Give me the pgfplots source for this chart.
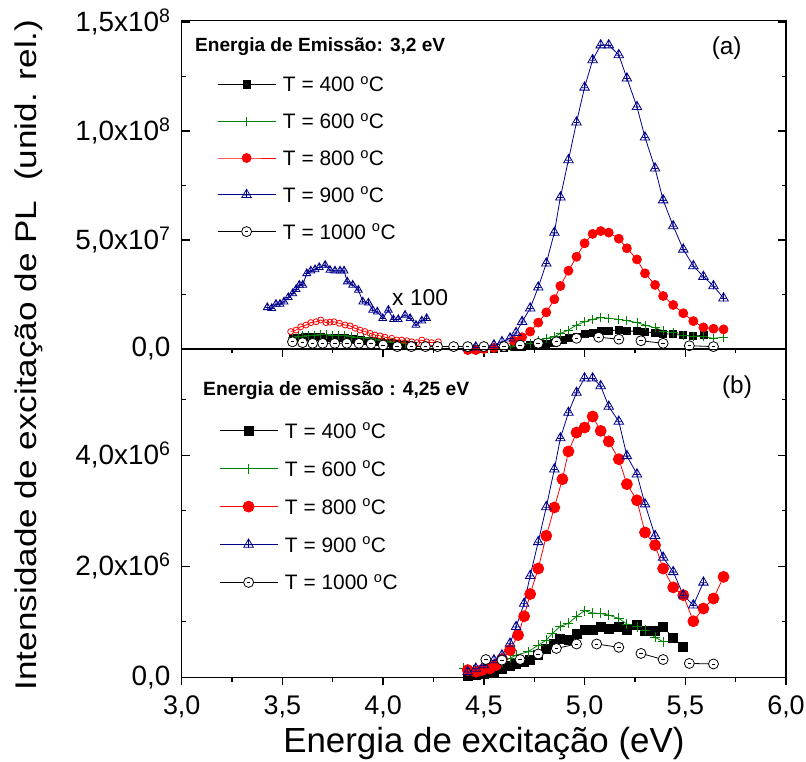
\documentclass[border=0pt]{standalone}
\usepackage{fontspec}
\setmainfont{Liberation Sans}
\usepackage{graphicx}
\usepackage{pgfplots}
\pgfplotsset{compat=1.18}
\definecolor{cnavy}{RGB}{0,0,139}
\definecolor{cgreen}{RGB}{0,128,0}
\definecolor{cred}{RGB}{255,0,0}
\pgfdeclareplotmark{tricross}{%
  \pgfpathmoveto{\pgfqpointpolar{90}{\pgfplotmarksize}}%
  \pgfpathlineto{\pgfqpointpolar{210}{\pgfplotmarksize}}%
  \pgfpathlineto{\pgfqpointpolar{330}{\pgfplotmarksize}}%
  \pgfpathclose
  \pgfpathmoveto{\pgfqpointpolar{90}{\pgfplotmarksize}}%
  \pgfpathlineto{\pgfqpoint{0pt}{-0.6\pgfplotmarksize}}%
  \pgfpathmoveto{\pgfqpoint{-0.45\pgfplotmarksize}{-0.05\pgfplotmarksize}}%
  \pgfpathlineto{\pgfqpoint{0.45\pgfplotmarksize}{-0.05\pgfplotmarksize}}%
  \pgfusepathqstroke}
\pgfdeclareplotmark{odash}{%
  \pgfpathcircle{\pgfpointorigin}{\pgfplotmarksize}%
  \pgfusepathqfillstroke
  \pgfpathmoveto{\pgfqpoint{-0.35\pgfplotmarksize}{0pt}}%
  \pgfpathlineto{\pgfqpoint{0.35\pgfplotmarksize}{0pt}}%
  \pgfusepathqstroke}
\newcommand{\tfont}{\fontsize{27}{30}\selectfont}
\newcommand{\yfont}{\fontsize{28}{31}\selectfont}
\newcommand{\lfont}{\fontsize{21}{24}\selectfont}
\newcommand{\dg}{\textsuperscript{o}}
\pgfplotsset{
  panel/.style={
    scale only axis, width=604.3bp, xmin=3, xmax=6,
    xtick={3,3.5,4,4.5,5,5.5,6}, minor xtick={3.25,3.75,4.25,4.75,5.25,5.75},
    xtick pos=lower, ytick pos=both,
    xtick align=outside, ytick align=inside,
    major tick length=8bp, minor tick length=4.5bp,
    axis line style={line width=1.5bp},
    tick style={black, line width=1.3bp},
    clip=false, unbounded coords=jump,
    xticklabel style={font=\tfont, anchor=north, inner sep=0pt, yshift=-10bp},
    yticklabel style={font=\yfont, anchor=east, inner sep=0pt, xshift=-11bp},
    legend cell align=left,
    legend image code/.code={\draw[mark repeat=2,mark phase=2] plot coordinates {(0bp,0bp) (29bp,0bp) (58bp,0bp)};},
    every axis plot/.append style={line width=0.8bp},
  },
  s400/.style={black, mark=square*, mark size=3.5bp, mark options={solid, fill=black}},
  s600/.style={cgreen, mark=+, mark size=4.5bp, mark options={solid}},
  s800/.style={cred, mark=*, mark size=4.5bp, mark options={solid, fill=cred}},
  s900/.style={cnavy, mark=tricross, mark size=5.5bp, mark options={solid}},
  s1000/.style={black, mark=odash, mark size=5bp, mark options={solid, fill=white}},
}
\begin{document}
\begin{tikzpicture}
\useasboundingbox (0,0) rectangle (806bp,762bp);
% ---------------- top panel (a)
\begin{axis}[panel, at={(181.7bp,413bp)}, anchor=south west, height=328.3bp,
  ymin=0, ymax=15.06, ytick={0,5,10,15}, minor ytick={2.5,7.5,12.5},
  yticklabels={{0,0},{5,0x10\textsuperscript{7}},{1,0x10\textsuperscript{8}},{1,5x10\textsuperscript{8}}},
  xticklabels={},
  legend style={at={(0.0584,0.8294)}, anchor=north west, draw=none, fill=none, inner sep=0pt,
    row sep=21.8bp, column sep=4bp, font=\lfont,
    nodes={inner ysep=0pt, inner xsep=3bp, text height=15bp, text depth=0bp}}]
% low-energy region
\addplot[s400, forget plot, mark size=3.5bp] coordinates {(3.55,0.50)(3.57,0.52)(3.59,0.53)(3.61,0.54)(3.63,0.54)(3.65,0.54)(3.67,0.54)(3.69,0.54)(3.71,0.53)(3.73,0.53)(3.75,0.52)(3.77,0.51)(3.79,0.50)(3.81,0.49)(3.83,0.47)(3.85,0.45)(3.87,0.43)(3.89,0.41)(3.91,0.39)(3.93,0.37)(3.95,0.35)(3.97,0.33)(3.99,0.31)(4.01,0.29)(4.03,0.27)(4.05,0.25)(4.07,0.23)(4.09,0.21)(4.11,0.19)(4.13,0.17)(4.15,0.15)};
\addplot[s600, forget plot] coordinates {(3.55,0.55)(3.58,0.58)(3.60,0.60)(3.63,0.62)(3.66,0.63)(3.69,0.66)(3.72,0.65)(3.75,0.64)(3.78,0.63)(3.81,0.61)(3.84,0.58)(3.87,0.55)(3.90,0.52)(3.93,0.48)(3.96,0.44)(3.99,0.40)(4.02,0.36)(4.05,0.32)(4.08,0.30)(4.11,0.27)};
\addplot[cred, mark=o, mark size=3bp, mark options={solid}, forget plot] coordinates {(3.541,0.80)(3.568,0.87)(3.591,1.02)(3.617,1.10)(3.641,1.21)(3.667,1.25)(3.690,1.33)(3.716,1.21)(3.736,1.23)(3.756,1.25)(3.783,1.18)(3.811,1.10)(3.836,1.06)(3.861,0.95)(3.885,0.87)(3.910,0.80)(3.935,0.72)(3.960,0.64)(3.985,0.60)(4.009,0.54)(4.043,0.49)(4.068,0.41)(4.092,0.41)(4.117,0.38)(4.142,0.33)(4.167,0.29)(4.192,0.41)(4.216,0.33)(4.241,0.29)(4.274,0.33)};
\addplot[s900, mark size=4.5bp, forget plot] coordinates {(3.425,1.91)(3.447,1.87)(3.468,2.06)(3.488,2.06)(3.508,2.17)(3.529,2.37)(3.551,2.55)(3.568,2.74)(3.584,2.94)(3.601,2.94)(3.621,3.47)(3.641,3.59)(3.662,3.65)(3.683,3.75)(3.712,3.85)(3.736,3.62)(3.761,3.59)(3.786,3.59)(3.806,3.59)(3.822,3.09)(3.849,2.94)(3.877,2.71)(3.899,2.17)(3.927,2.12)(3.948,1.79)(3.971,1.71)(3.998,1.41)(4.026,1.79)(4.051,1.36)(4.075,1.36)(4.109,1.56)(4.134,1.41)(4.163,1.10)(4.192,1.30)(4.216,1.41)};
% main series
\addplot[s400] coordinates {(4.42,0.0)(4.46,0.0)(4.50,0.0)(4.55,0.02)(4.60,0.05)(4.65,0.08)(4.69,0.11)(4.73,0.18)(4.77,0.22)(4.81,0.25)(4.85,0.28)(4.89,0.40)(4.92,0.49)(4.96,0.56)(5.00,0.67)(5.04,0.76)(5.08,0.82)(5.12,0.84)(5.17,0.87)(5.21,0.82)(5.26,0.82)(5.30,0.79)(5.35,0.74)(5.39,0.71)(5.44,0.67)(5.49,0.63)(5.54,0.59)(5.59,0.63)};
\addlegendentry{T = 400 \dg C}
\addplot[s600] coordinates {(4.45,0.0)(4.50,0.0)(4.55,0.05)(4.60,0.08)(4.63,0.10)(4.66,0.18)(4.73,0.25)(4.77,0.37)(4.81,0.49)(4.85,0.56)(4.88,0.71)(4.92,0.87)(4.96,1.10)(5.00,1.25)(5.04,1.36)(5.08,1.44)(5.12,1.41)(5.17,1.36)(5.21,1.30)(5.26,1.21)(5.30,1.10)(5.35,0.97)(5.39,0.83)(5.44,0.74)(5.49,0.63)(5.54,0.59)(5.59,0.56)(5.64,0.49)(5.69,0.54)};
\addlegendentry{T = 600 \dg C}
\addplot[s800] coordinates {(4.42,-0.05)(4.46,-0.05)(4.50,0.0)(4.55,0.05)(4.60,0.10)(4.65,0.37)(4.69,0.54)(4.73,0.80)(4.77,1.21)(4.81,1.68)(4.85,2.28)(4.88,2.89)(4.92,3.59)(4.96,4.23)(5.00,4.85)(5.04,5.28)(5.08,5.41)(5.12,5.34)(5.17,5.06)(5.21,4.62)(5.26,4.11)(5.30,3.47)(5.35,2.94)(5.39,2.43)(5.44,2.02)(5.49,1.64)(5.54,1.28)(5.59,0.99)(5.64,0.93)(5.69,0.90)};
\addlegendentry{T = 800 \dg C}
\addplot[s900] coordinates {(4.42,0.05)(4.46,0.08)(4.50,0.10)(4.55,0.18)(4.59,0.33)(4.63,0.49)(4.66,0.75)(4.69,1.25)(4.73,1.87)(4.77,2.83)(4.81,3.93)(4.85,5.34)(4.88,6.96)(4.92,8.67)(4.96,10.40)(5.00,12.00)(5.04,13.26)(5.08,13.94)(5.12,13.94)(5.17,13.49)(5.21,12.42)(5.26,11.11)(5.30,9.71)(5.35,8.29)(5.39,6.83)(5.44,5.64)(5.49,4.57)(5.54,3.81)(5.59,3.32)(5.64,2.89)(5.69,2.33)};
\addlegendentry{T = 900 \dg C}
\addplot[s1000] coordinates {(3.55,0.33)(3.60,0.29)(3.65,0.26)(3.70,0.26)(3.76,0.26)(3.82,0.26)(3.88,0.26)(3.94,0.24)(4.00,0.18)(4.07,0.11)(4.14,0.11)(4.21,0.11)(4.27,0.11)(4.35,0.11)(4.42,0.11)(4.50,0.11)(4.60,0.11)(4.68,0.18)(4.77,0.26)(4.86,0.33)(4.96,0.49)(4.99,nan)(5.07,0.54)(5.17,0.45)(5.22,nan)(5.28,0.38)(5.39,0.26)(5.45,nan)(5.52,0.15)(5.64,0.11)};
\addlegendentry{T = 1000 \dg C}
\end{axis}
% ---------------- bottom panel (b)
\begin{axis}[panel, at={(181.7bp,84.7bp)}, anchor=south west, height=328bp,
  ymin=0, ymax=5.91, ytick={0,2,4}, minor ytick={1,3,5},
  yticklabels={{0,0},{2,0x10\textsuperscript{6}},{4,0x10\textsuperscript{6}}},
  xticklabels={{3,0},{3,5},{4,0},{4,5},{5,0},{5,5},{6,0}},
  legend style={at={(0.0617,0.7750)}, anchor=north west, draw=none, fill=none, inner sep=0pt,
    row sep=22.9bp, column sep=4bp, font=\lfont,
    nodes={inner ysep=0pt, inner xsep=3bp, text height=15bp, text depth=0bp}}]
\addplot[s400, mark size=4.5bp] coordinates {(4.42,0.03)(4.46,0.05)(4.50,0.07)(4.55,0.10)(4.59,0.16)(4.63,0.20)(4.66,0.24)(4.70,0.28)(4.73,0.32)(4.77,0.40)(4.81,0.52)(4.85,0.60)(4.88,0.70)(4.92,0.68)(4.96,0.78)(5.00,0.85)(5.04,0.85)(5.08,0.90)(5.12,0.88)(5.17,0.90)(5.21,0.86)(5.26,0.94)(5.30,0.84)(5.35,0.84)(5.39,0.91)(5.44,0.71)(5.49,0.54)};
\addlegendentry{T = 400 \dg C}
\addplot[s600, mark size=5bp] coordinates {(4.40,0.16)(4.45,0.14)(4.50,0.18)(4.55,0.22)(4.59,0.28)(4.63,0.34)(4.66,0.40)(4.72,0.46)(4.77,0.58)(4.81,0.67)(4.84,0.79)(4.88,0.92)(4.92,0.97)(4.96,1.10)(5.00,1.20)(5.04,1.16)(5.08,1.15)(5.12,1.12)(5.17,1.06)(5.21,0.96)(5.26,0.91)(5.30,0.85)(5.35,0.72)(5.39,0.64)};
\addlegendentry{T = 600 \dg C}
\addplot[s800, mark size=5.5bp] coordinates {(4.42,0.13)(4.46,0.10)(4.49,0.13)(4.53,0.16)(4.56,0.22)(4.59,0.33)(4.63,0.49)(4.67,0.76)(4.70,1.10)(4.73,1.50)(4.77,1.96)(4.81,2.55)(4.85,3.06)(4.89,3.57)(4.92,4.07)(4.96,4.41)(5.00,4.50)(5.04,4.70)(5.08,4.44)(5.12,4.25)(5.17,3.93)(5.21,3.48)(5.26,3.19)(5.30,2.61)(5.35,2.38)(5.39,1.96)(5.44,1.62)(5.49,1.48)(5.54,1.01)(5.59,1.24)(5.64,1.42)(5.69,1.81)};
\addlegendentry{T = 800 \dg C}
\addplot[s900] coordinates {(4.42,0.10)(4.46,0.16)(4.50,0.22)(4.55,0.31)(4.59,0.40)(4.63,0.61)(4.66,0.91)(4.70,1.33)(4.73,1.83)(4.77,2.44)(4.81,3.07)(4.85,3.75)(4.88,4.31)(4.92,4.77)(4.96,5.13)(5.00,5.39)(5.04,5.39)(5.08,5.25)(5.12,4.88)(5.17,4.61)(5.21,3.99)(5.26,3.66)(5.30,3.12)(5.35,2.55)(5.39,2.16)(5.44,1.90)(5.49,1.48)(5.54,1.30)(5.59,1.71)};
\addlegendentry{T = 900 \dg C}
\addplot[s1000] coordinates {(4.51,0.32)(4.55,nan)(4.59,0.31)(4.63,nan)(4.68,0.32)(4.72,nan)(4.77,0.42)(4.81,nan)(4.86,0.52)(4.96,0.60)(5.01,nan)(5.06,0.60)(5.17,0.54)(5.22,nan)(5.28,0.43)(5.39,0.32)(5.45,nan)(5.52,0.25)(5.64,0.24)};
\addlegendentry{T = 1000 \dg C}
\end{axis}
% ---------------- texts
\node[anchor=west, inner sep=0pt] at (195bp,715.3bp) {\resizebox{250bp}{!}{\fontsize{20}{24}\selectfont\bfseries Energia de Emissão: 3,2 eV}};
\node[anchor=west, inner sep=0pt] at (203bp,371bp) {\resizebox{266bp}{!}{\fontsize{20}{24}\selectfont\bfseries Energia de emissão : 4,25 eV}};
\node[inner sep=0pt] at (726.7bp,713.7bp) {\fontsize{24.5}{28}\selectfont (a)};
\node[inner sep=0pt] at (737bp,375.3bp) {\fontsize{24.5}{28}\selectfont (b)};
\node[anchor=west, inner sep=0pt] at (392bp,464bp) {\fontsize{23}{26}\selectfont x 100};
\node[rotate=90, anchor=base, inner sep=0pt] at (36bp,407bp) {\scalebox{1.175}[1]{\fontsize{30}{36}\selectfont Intensidade de excitação de PL\ \ (unid. rel.)}};
\node[anchor=base, inner sep=0pt] at (483.9bp,10bp) {\fontsize{35}{40}\selectfont Energia de excitação (eV)};
\end{tikzpicture}
\end{document}
